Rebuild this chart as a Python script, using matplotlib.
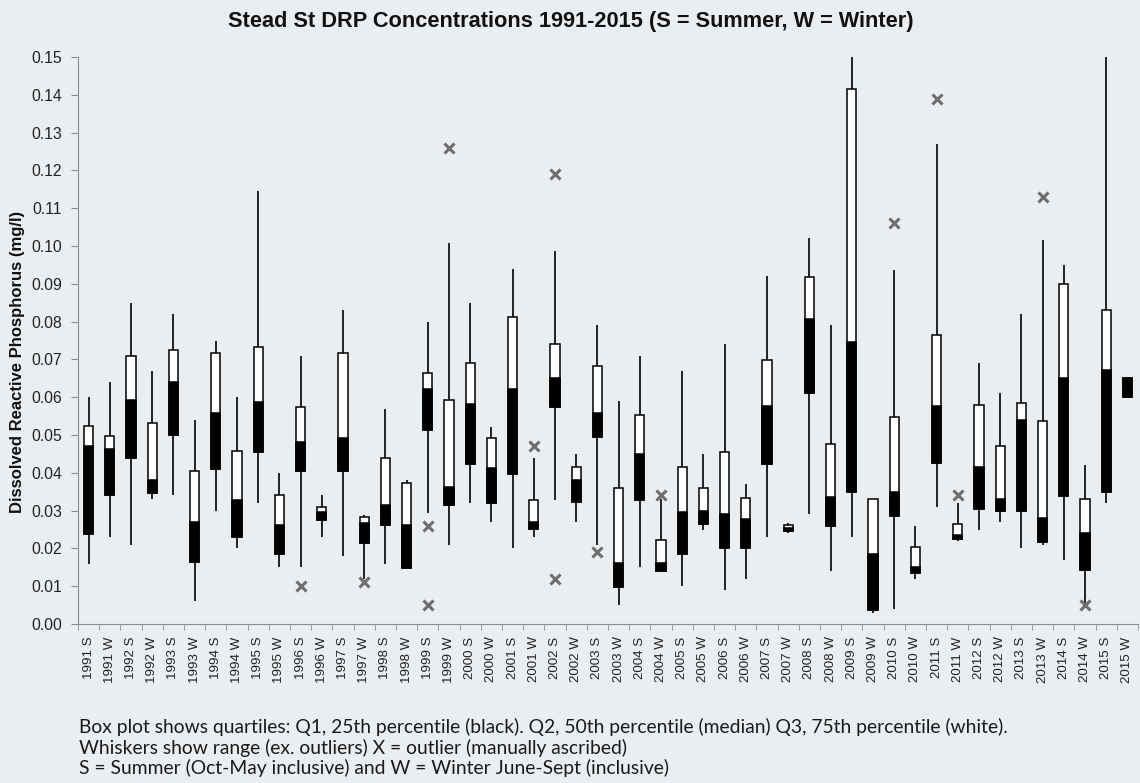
import numpy as np
import matplotlib
matplotlib.use("Agg")
import matplotlib.pyplot as plt

# Stead St DRP box plot data (mg/l)
labels = [f"{y} {s}" for y in range(1991, 2016) for s in ("S", "W")]

lo = [0.016, 0.023, 0.021, 0.033, 0.034, 0.006, 0.030, 0.020, 0.032, 0.015,
      0.015, 0.023, 0.018, 0.012, 0.016, 0.0149, 0.0294, 0.021, 0.032, 0.027,
      0.020, 0.023, 0.0327, 0.027, 0.021, 0.005, 0.015, 0.014, 0.010, 0.025,
      0.009, 0.012, 0.023, 0.024, 0.029, 0.014, 0.023, 0.003, 0.004, 0.012,
      0.031, 0.022, 0.025, 0.027, 0.020, 0.021, 0.017, 0.005, 0.032, 0.060]
q1 = [0.0238, 0.0341, 0.0439, 0.0347, 0.0499, 0.0165, 0.0410, 0.0229, 0.0456, 0.0186,
      0.0404, 0.0274, 0.0404, 0.0214, 0.0263, 0.0149, 0.0513, 0.0314, 0.0423, 0.0321,
      0.0396, 0.0251, 0.0573, 0.0324, 0.0494, 0.0099, 0.0329, 0.0140, 0.0184, 0.0265,
      0.0202, 0.0200, 0.0422, 0.0247, 0.0610, 0.0258, 0.0348, 0.0036, 0.0285, 0.0134,
      0.0426, 0.0226, 0.0305, 0.0299, 0.0299, 0.0216, 0.0339, 0.0144, 0.0349, 0.0600]
med = [0.0470, 0.0463, 0.0592, 0.0382, 0.0641, 0.0271, 0.0557, 0.0327, 0.0586, 0.0261,
       0.0482, 0.0297, 0.0491, 0.0266, 0.0316, 0.0261, 0.0622, 0.0362, 0.0582, 0.0412,
       0.0621, 0.0270, 0.0652, 0.0382, 0.0557, 0.0162, 0.0451, 0.0162, 0.0297, 0.0300,
       0.0290, 0.0277, 0.0577, 0.0255, 0.0807, 0.0336, 0.0746, 0.0186, 0.0350, 0.0150,
       0.0577, 0.0236, 0.0416, 0.0331, 0.0541, 0.0281, 0.0651, 0.0241, 0.0671, 0.0650]
q3 = [0.0524, 0.0497, 0.0710, 0.0532, 0.0725, 0.0405, 0.0718, 0.0457, 0.0734, 0.0340,
      0.0575, 0.0310, 0.0718, 0.0282, 0.0440, 0.0372, 0.0663, 0.0593, 0.0690, 0.0491,
      0.0813, 0.0328, 0.0740, 0.0415, 0.0682, 0.0360, 0.0552, 0.0221, 0.0415, 0.0360,
      0.0454, 0.0333, 0.0698, 0.0263, 0.0918, 0.0476, 0.1416, 0.0330, 0.0548, 0.0204,
      0.0765, 0.0264, 0.0580, 0.0471, 0.0584, 0.0537, 0.0900, 0.0330, 0.0830, 0.0650]
hi = [0.060, 0.064, 0.085, 0.067, 0.082, 0.054, 0.075, 0.060, 0.1145, 0.040,
      0.071, 0.034, 0.083, 0.0288, 0.057, 0.038, 0.080, 0.1008, 0.085, 0.052,
      0.094, 0.044, 0.0988, 0.045, 0.079, 0.059, 0.071, 0.033, 0.067, 0.045,
      0.074, 0.037, 0.092, 0.0267, 0.102, 0.079, 0.150, 0.033, 0.0937, 0.026,
      0.127, 0.032, 0.069, 0.061, 0.082, 0.1017, 0.095, 0.042, 0.150, 0.065]

# manually ascribed outliers: (category label, value)
out_cat = ["1996 S", "1997 W", "1999 S", "1999 S", "1999 W", "2001 W", "2002 S",
           "2002 S", "2003 S", "2004 W", "2010 S", "2011 S", "2011 W", "2013 W", "2014 W"]
out_val = [0.010, 0.011, 0.026, 0.005, 0.126, 0.047, 0.119,
           0.012, 0.019, 0.034, 0.106, 0.139, 0.034, 0.113, 0.005]

bg = "#ebeef1"
fig = plt.figure(figsize=(11.4, 7.83), dpi=100, facecolor=bg)
ax = fig.add_axes([78/1140, (783-624)/783, 1060/1140, 567/783], facecolor=bg)

x = np.arange(len(labels))
lo, q1, med, q3, hi = map(np.array, (lo, q1, med, q3, hi))
w = 0.44

# whiskers, then white Q2-Q3 box, then black Q1-Q2 box
ax.vlines(x, lo, hi, color="black", lw=1.2, zorder=1)
ax.bar(x, q3 - q1, w, bottom=q1, color="white", edgecolor="black", lw=1.1, zorder=2)
ax.bar(x, med - q1, w, bottom=q1, color="black", edgecolor="black", lw=1.1, zorder=3)

ox = [labels.index(c) for c in out_cat]
ax.plot(ox, out_val, ls="none", marker="x", ms=7, mew=2.2, color="#6e6e6e", zorder=4)

ax.set_xlim(-0.5, len(labels) - 0.5)
ax.set_ylim(0, 0.15)
ax.set_yticks(np.arange(0, 0.1501, 0.01))
ax.set_yticklabels([f"{v:.2f}" for v in np.arange(0, 0.1501, 0.01)],
                   family="Liberation Sans", fontsize=11.3, color="#222222")
ax.set_xticks(x)
ax.set_xticklabels(labels, rotation=90, family="Liberation Sans", fontsize=9.6, color="#222222")
ax.set_xticks(np.arange(-0.5, len(labels), 1), minor=True)
ax.tick_params(axis="x", which="major", length=0, pad=9)
ax.tick_params(axis="x", which="minor", length=4, color="#8c8c8c")
ax.tick_params(axis="y", length=5, color="#8c8c8c", pad=6.5)

for s in ("top", "right"):
    ax.spines[s].set_visible(False)
for s in ("left", "bottom"):
    ax.spines[s].set_color("#8c8c8c")

fig.text(0.5009, 1 - 21/783, "Stead St DRP Concentrations 1991-2015 (S = Summer, W = Winter)",
         ha="center", va="center", fontsize=15.7, fontweight="bold",
         family="Liberation Sans", color="#111111")
fig.text(18/1140, 1 - 362/783, "Dissolved Reactive Phosphorus (mg/l)", rotation=90,
         ha="center", va="center", fontsize=12, fontweight="bold",
         family="Liberation Sans", color="#111111")

notes = ["Box plot shows quartiles: Q1, 25th percentile (black). Q2, 50th percentile (median) Q3, 75th percentile (white).",
         "Whiskers show range (ex. outliers) X = outlier (manually ascribed)",
         "S = Summer (Oct-May inclusive) and W = Winter June-Sept (inclusive)"]
for i, t in enumerate(notes):
    fig.text(79/1140, 1 - (727 + 20.5*i)/783, t, ha="left", va="center",
             fontsize=13.9, family="Lato", color="#1a1a1a")

fig.savefig("out.png", dpi=100, facecolor=bg)
